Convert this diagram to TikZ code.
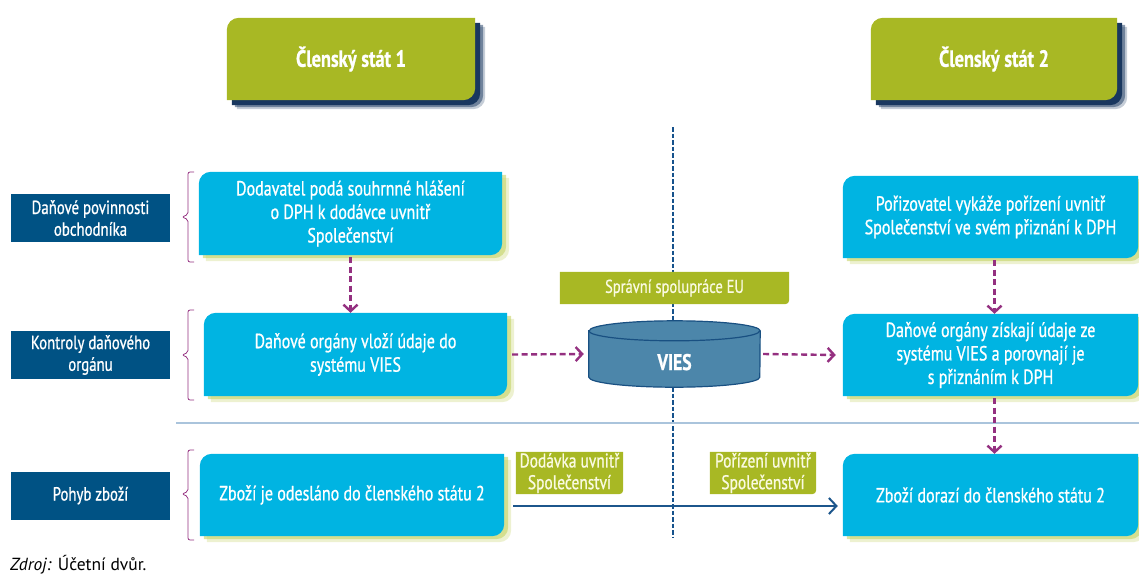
\documentclass[tikz,border=0pt]{standalone}
\usepackage{fontspec}
\setmainfont{PT Sans}[FakeStretch=0.78,FakeBold=0.8]
\newfontfamily\srcfont{PT Sans}
\usetikzlibrary{arrows.meta}

\definecolor{stategreen}{RGB}{168,184,36}
\definecolor{headshadow}{RGB}{25,55,95}
\definecolor{cyanbox}{RGB}{0,180,226}
\definecolor{cyanglow}{RGB}{196,210,100}
\definecolor{sideblue}{RGB}{0,82,132}
\definecolor{purp}{RGB}{148,48,128}
\definecolor{vline}{RGB}{22,82,140}
\definecolor{sepline}{RGB}{170,196,220}
\definecolor{goodsblue}{RGB}{28,86,140}
\definecolor{viesfill}{RGB}{76,134,170}
\definecolor{viesedge}{RGB}{25,80,130}
\definecolor{gtext}{RGB}{250,250,225}

\pgfdeclarelayer{bg}
\pgfsetlayers{bg,main}

% outline with rounded top-left and bottom-right corners
\newcommand\tlbrpath[2]{(#1.south west) -- ([yshift=-#2]#1.north west)
  arc[start angle=180,end angle=90,radius=#2] -- (#1.north east)
  -- ([yshift=#2]#1.south east) arc[start angle=0,end angle=-90,radius=#2] -- cycle}
% outline with a rounded bottom-right corner only
\newcommand\brpath[2]{(#1.south west) -- (#1.north west) -- (#1.north east)
  -- ([yshift=#2]#1.south east) arc[start angle=0,end angle=-90,radius=#2] -- cycle}

\begin{document}
\begin{tikzpicture}[x=1pt,y=1pt,
  header/.style={minimum width=248pt,minimum height=82pt,inner sep=0pt,text=white,
    font=\fontsize{23.5}{27}\selectfont\bfseries},
  side/.style={fill=sideblue,minimum width=159pt,minimum height=48pt,inner sep=0pt,
    text=white,align=center,font=\fontsize{19}{21.7}\selectfont},
  stepbox/.style={minimum width=303pt,minimum height=83pt,inner sep=0pt,text=white,
    align=center,font=\fontsize{20.5}{23.5}\selectfont},
  rightbox/.style={stepbox,minimum width=295pt,minimum height=82pt},
  glabel/.style={inner sep=0pt,text=gtext,align=center,font=\fontsize{19.8}{21.7}\selectfont},
  flow/.style={draw=purp,line width=2.4pt,dash pattern=on 6pt off 3.5pt,
    -{Straight Barb[length=6.5pt,width=14pt]}},
  goods/.style={draw=goodsblue,line width=2pt,-{Straight Barb[length=7.5pt,width=16pt]}},
  brace/.style={draw=purp,line width=0.8pt,rounded corners=2pt},
]
\useasboundingbox (0,0) rectangle (1139,-573);

% column headers
\node[header] (h1) at (351,-59) {Členský stát 1};
\node[header,minimum width=246pt] (h2) at (994,-59) {Členský stát 2};

% row labels
\node[side] (l1) at (90.5,-218) {Daňové povinnosti\\obchodníka};
\node[side] (l2) at (90.5,-355) {Kontroly daňového\\orgánu};
\node[side] (l3) at (90.5,-495.5) {Pohyb zboží};

% steps in member state 1
\node[stepbox] (A) at (350.5,-213.5) {Dodavatel podá souhrnné hlášení\\o DPH k dodávce uvnitř\\Společenství};
\node[stepbox] (B) at (355.5,-354.5) {Daňové orgány vloží údaje do\\systému VIES};
\node[stepbox,minimum width=304pt,minimum height=82pt] (C) at (352,-495) {Zboží je odesláno do členského státu 2};

% steps in member state 2
\node[rightbox] (D) at (990.5,-217) {Pořizovatel vykáže pořízení uvnitř\\Společenství ve svém přiznání k DPH};
\node[rightbox] (E) at (990.5,-355) {Daňové orgány získají údaje ze\\systému VIES a porovnají je\\s přiznáním k DPH};
\node[rightbox] (F) at (990.5,-495) {Zboží dorazí do členského státu 2};

% EU cooperation and the VIES database
\node[glabel,minimum width=229pt,minimum height=32pt,font=\fontsize{18.6}{21}\selectfont] (EU) at (674.5,-288) {Správní spolupráce EU};
\node[minimum width=171pt,minimum height=66pt,inner sep=0pt,text=white,
  font=\fontsize{22.6}{26}\selectfont\bfseries] (V) at (674.5,-354) {\raisebox{-16pt}[0pt][0pt]{VIES}};

% labels on the goods flow
\node[glabel,minimum width=107pt,minimum height=42pt] (g1) at (569.5,-473) {Dodávka uvnitř\\Společenství};
\node[glabel,minimum width=106pt,minimum height=42pt] (g2) at (763,-473) {Pořízení uvnitř\\Společenství};

% border between the member states
\coordinate (vt) at (673,-127);
\coordinate (vb) at (673,-538);
\coordinate (s1) at (176,-423);
\coordinate (s2) at (1139,-423);

\begin{pgfonlayer}{bg}
  \draw[vline,line width=1.6pt,dash pattern=on 4.5pt off 2pt] (vt) -- (vb);
  \draw[sepline,line width=2pt] (s1) -- (s2);

  % header shadows and fills
  \foreach \n in {h1,h2}{
    \fill[headshadow,opacity=0.25,transform canvas={shift={(10pt,-9pt)}}] \tlbrpath{\n}{12pt};
    \fill[headshadow,opacity=0.5,transform canvas={shift={(8pt,-7pt)}}] \tlbrpath{\n}{12pt};
    \fill[headshadow,transform canvas={shift={(5pt,-5pt)}}] \tlbrpath{\n}{12pt};
    \fill[stategreen] \tlbrpath{\n}{12pt};
  }

  % step boxes with their light glow
  \foreach \n in {A,B,C,D,E,F}{
    \fill[cyanglow,opacity=0.3,transform canvas={shift={(7pt,-6pt)}}] \tlbrpath{\n}{12pt};
    \fill[cyanglow,opacity=0.6,transform canvas={shift={(4pt,-3pt)}}] \tlbrpath{\n}{12pt};
    \fill[cyanbox] \tlbrpath{\n}{12pt};
  }

  % green labels
  \foreach \n in {EU,g1,g2}{
    \fill[stategreen] \brpath{\n}{4pt};
  }

  % VIES cylinder
  \fill[viesfill,draw=viesedge,line width=1.2pt]
    ([yshift=-10pt]V.north west) -- ([yshift=10pt]V.south west)
    arc[start angle=180,end angle=360,x radius=85.5pt,y radius=10pt]
    -- ([yshift=-10pt]V.north east)
    arc[start angle=0,end angle=180,x radius=85.5pt,y radius=10pt] -- cycle;
  \draw[viesedge,line width=1.2pt] ([yshift=-10pt]V.north west)
    arc[start angle=180,end angle=360,x radius=85.5pt,y radius=10pt];
\end{pgfonlayer}

% brackets grouping each row
\draw[brace] (194,-172) -- (188,-172) -- (188,-214.5) -- (182,-217) -- (188,-219.5) -- (188,-262) -- (194,-262);
\draw[brace] (194,-310) -- (188,-310) -- (188,-352.5) -- (182,-355) -- (188,-357.5) -- (188,-400) -- (194,-400);
\draw[brace] (194,-450) -- (188,-450) -- (188,-491.5) -- (182,-494) -- (188,-496.5) -- (188,-540) -- (194,-540);

% information flow
\draw[flow] ([yshift=-2pt]A.south) -- (A.south |- B.north);
\draw[flow] ([xshift=5pt]B.east) -- ([xshift=-5pt]V.west);
\draw[flow] ([xshift=3pt]V.east) -- ([xshift=-7pt]E.west);
\draw[flow] ([xshift=4pt,yshift=-2pt]D.south) -- ([xshift=4pt]D.south |- E.north);
\draw[flow] ([xshift=4pt,yshift=-2pt]E.south) -- ([xshift=4pt]E.south |- F.north);

% movement of goods
\draw[goods] ([xshift=9pt,yshift=-11pt]C.east) -- ([xshift=-5pt,yshift=-11pt]F.west);

% source
\node[anchor=base west,inner sep=0pt,font=\srcfont\fontsize{17.5}{20}\selectfont] (src) at (10,-570) {\textit{Zdroj:} Účetní dvůr.};
\end{tikzpicture}
\end{document}
